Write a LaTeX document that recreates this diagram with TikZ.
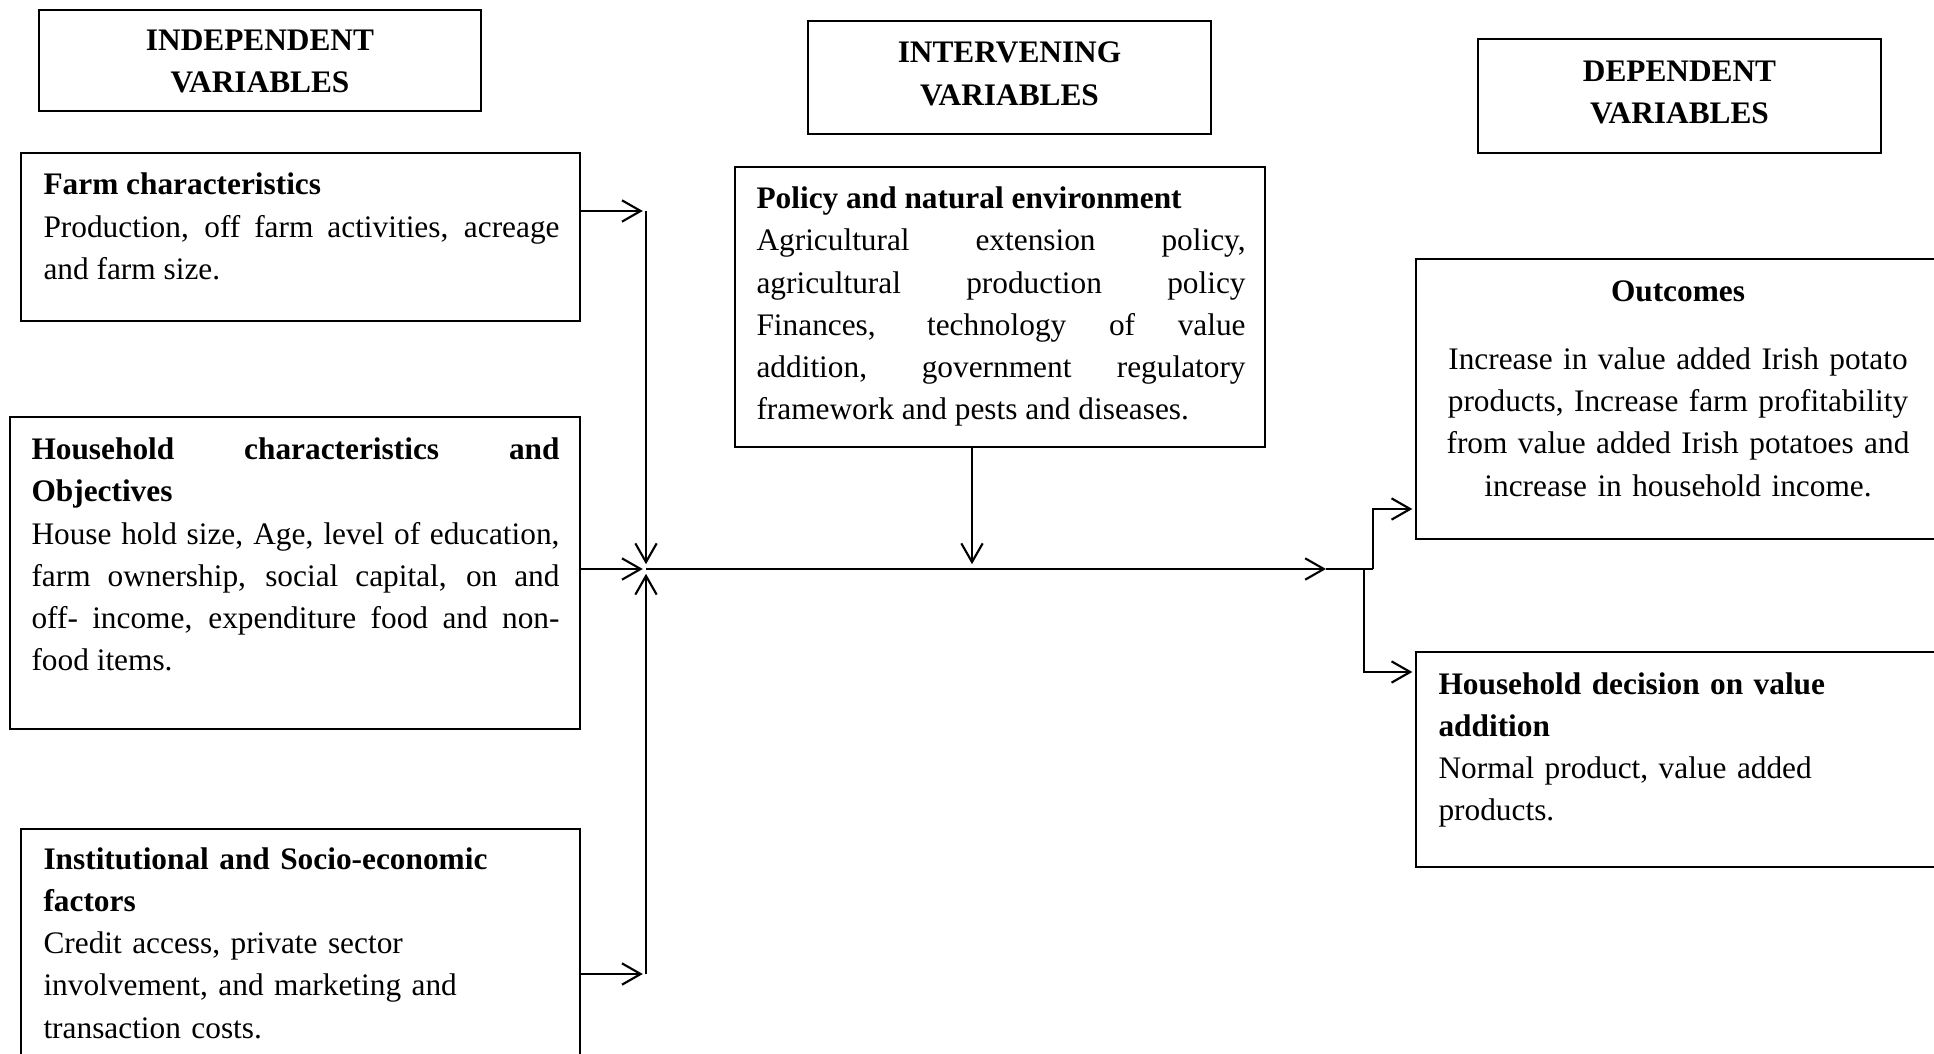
\documentclass[tikz,border=0pt]{standalone}
\usepackage{fontspec}
\setmainfont{Liberation Serif}
\usetikzlibrary{arrows.meta,fit}
\tolerance=10000 \hbadness=10000 \hyphenpenalty=10000 \exhyphenpenalty=10000
\begin{document}
\begin{tikzpicture}[x=0.375pt,y=-0.375pt,
  box/.style={draw, line width=0.75pt, inner sep=0pt, rectangle},
  txt/.style={inner sep=0pt, font=\fontsize{11.75pt}{15.85pt}\selectfont},
  arr/.style={line width=0.8pt, -{Straight Barb[length=7pt,width=8pt]}},
  ln/.style={line width=0.8pt}]
\useasboundingbox (0,0) rectangle (1934,1054);
\clip (0,0) rectangle (1934,1054);

% header boxes
\node[box, fit={(39,10) (481,111)}] (indH) {};
\node[box, fit={(808,21) (1211,134)}] (intH) {};
\node[box, fit={(1478,39) (1881,153)}] (depH) {};
\node[txt, text width=112.5pt, align=center, anchor=base] (indHT) at (260,50.5) {\textbf{INDEPENDENT}\\\textbf{VARIABLES}};
\node[txt, text width=112.5pt, align=center, anchor=base] (intHT) at (1009.5,63) {\textbf{INTERVENING}\\\textbf{VARIABLES}};
\node[txt, text width=112.5pt, align=center, anchor=base] (depHT) at (1679.5,81.5) {\textbf{DEPENDENT}\\\textbf{VARIABLES}};

% content boxes
\node[box, fit={(21,153) (580,321)}] (farm) {};
\node[box, fit={(10,417) (580,729)}] (hh) {};
\node[box, fit={(21,829) (580,1070)}] (inst) {};
\node[box, fit={(735,167) (1265,447)}] (pol) {};
\node[box, fit={(1416,259) (1950,539)}] (out) {};
\node[box, fit={(1416,652) (1950,867)}] (dec) {};

\node[txt, text width=193.5pt, align=justify, anchor=base west] (farmT) at (43,195)
  {\textbf{Farm characteristics}\\ Production, off farm activities, acreage\break and farm size.};
\node[txt, text width=198pt, align=justify, anchor=base west] (hhT) at (31,459.5)
  {\textbf{Household characteristics and}\break\textbf{Objectives}\\ House hold size, Age, level of education,\break farm ownership, social capital, on and\break off- income, expenditure food and non-\break food items.};
\node[txt, text width=193.5pt, align=left, anchor=base west] (instT) at (43,869)
  {\textbf{Institutional and Socio-economic}\\ \textbf{factors}\\ Credit access, private sector\\ involvement, and marketing and\\ transaction costs.};
\node[txt, text width=183.4pt, align=justify, anchor=base west] (polT) at (756,208.5)
  {\textbf{Policy and natural environment}\\ Agricultural extension policy,\break agricultural production policy\break Finances, technology of value\break addition, government regulatory\break framework and pests and diseases.};
\node[txt, text width=190pt, align=center, anchor=base] (outT) at (1678,301.5)
  {\textbf{Outcomes}\\[9.6pt] Increase in value added Irish potato\\ products, Increase farm profitability\\ from value added Irish potatoes and\\ increase in household income.};
\node[txt, text width=180pt, align=left, anchor=base west] (decT) at (1438,694)
  {\textbf{Household decision on value}\\ \textbf{addition}\\ Normal product, value added\\ products.};

% connector coordinates
\coordinate (Ttop) at (646,211);
\coordinate (Tbot) at (646,974);
\coordinate (J) at (646,569);
\coordinate (Mtip) at (1326,569);
\coordinate (M) at (1373,569);
\coordinate (M2) at (1364,569);
\coordinate (P) at (972,569);
\coordinate (Oin) at (1416,509);
\coordinate (Din) at (1416,672);

\draw[arr] (farm.east |- Ttop) -- ([xshift=-1.2pt]Ttop);
\draw[arr] (hh.east |- J) -- ([xshift=-1.2pt]J);
\draw[arr] (inst.east |- Tbot) -- ([xshift=-1.2pt]Tbot);
\draw[arr] (Ttop) -- ([yshift=1.8pt]J);
\draw[arr] (Tbot) -- ([yshift=-1.8pt]J);
\draw[arr] (pol.south -| P) -- ([yshift=1.8pt]P);
\draw[arr] (J) -- (Mtip);
\draw[ln] (Mtip) -- (M);
\draw[arr, shorten >=1pt] (M) |- (out.west |- Oin);
\draw[arr, shorten >=1pt] (M2) |- (dec.west |- Din);
\end{tikzpicture}
\end{document}
